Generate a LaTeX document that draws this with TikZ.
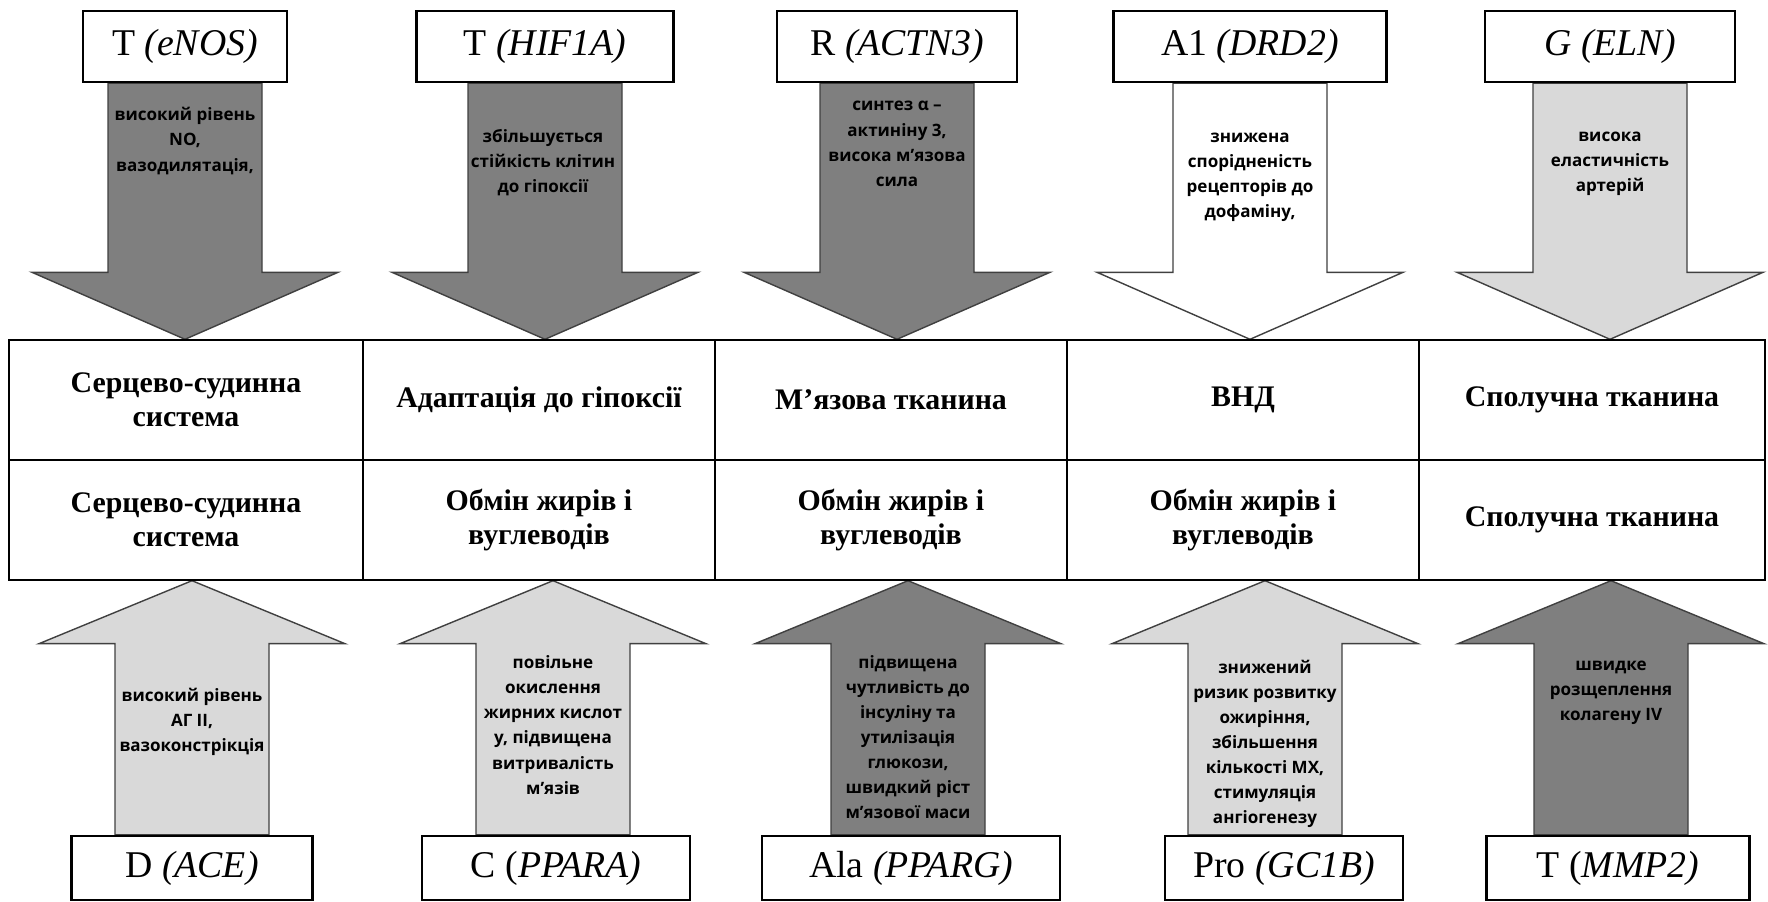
\documentclass[tikz,border=0pt]{standalone}
\usepackage{fontspec}
\setmainfont{Liberation Serif}
\newfontfamily\arrowfont{Open Sans}
\usetikzlibrary{calc,backgrounds}

\definecolor{darkgr}{RGB}{127,127,127}
\definecolor{lightgr}{RGB}{217,217,217}
\definecolor{rim}{RGB}{64,64,64}

\tikzset{
  allele/.style={draw, line width=1.4pt, fill=white, inner sep=0pt, minimum height=1.42cm, font=\fontsize{21.5}{24}\selectfont},
  cell/.style={draw, line width=0.8pt, inner sep=0pt, minimum height=2.4cm, align=center, font=\bfseries\fontsize{17}{19.5}\selectfont},
  effect/.style={align=center, inner sep=0pt, font=\arrowfont\bfseries\fontsize{9.7}{14.3}\selectfont},
  blockarr/.style={draw=rim, line width=0.8pt}
}

\begin{document}
\begin{tikzpicture}[x=0.02cm, y=-0.02cm]
\useasboundingbox (0,0) rectangle (1768,902);

% table of systems
\node[cell, minimum width=7.08cm] (c11) at (186,400) {Серцево-судинна\\система};
\node[cell, minimum width=7.04cm] (c12) at (539,400) {Адаптація до гіпоксії};
\node[cell, minimum width=7.04cm] (c13) at (891,400) {М’язова тканина};
\node[cell, minimum width=7.04cm] (c14) at (1243,400) {ВНД};
\node[cell, minimum width=6.92cm] (c15) at (1592,400) {Сполучна тканина};
\node[cell, minimum width=7.08cm] (c21) at (186,520) {Серцево-судинна\\система};
\node[cell, minimum width=7.04cm] (c22) at (539,520) {Обмін жирів і\\вуглеводів};
\node[cell, minimum width=7.04cm] (c23) at (891,520) {Обмін жирів і\\вуглеводів};
\node[cell, minimum width=7.04cm] (c24) at (1243,520) {Обмін жирів і\\вуглеводів};
\node[cell, minimum width=6.92cm] (c25) at (1592,520) {Сполучна тканина};

% alleles, top row
\node[allele, minimum width=4.08cm] (t1) at (185,46.5) {T \textit{(eNOS)}};
\node[allele, minimum width=5.14cm] (t2) at (545,46.5) {T \textit{(HIF1A)}};
\node[allele, minimum width=4.80cm] (t3) at (897,46.5) {R \textit{(ACTN3)}};
\node[allele, minimum width=5.46cm] (t4) at (1250,46.5) {A1 \textit{(DRD2)}};
\node[allele, minimum width=5.00cm] (t5) at (1610,46.5) {\textit{G (ELN)}};

% alleles, bottom row
\node[allele, minimum width=4.82cm, minimum height=1.28cm] (b1) at (192,868) {D \textit{(ACE)}};
\node[allele, minimum width=5.36cm, minimum height=1.28cm] (b2) at (556,868) {C (\textit{PPARA)}};
\node[allele, minimum width=5.96cm, minimum height=1.28cm] (b3) at (911,868) {Ala \textit{(PPARG)}};
\node[allele, minimum width=4.76cm, minimum height=1.28cm] (b4) at (1284,868) {Pro \textit{(GC1B)}};
\node[allele, minimum width=5.26cm, minimum height=1.28cm] (b5) at (1618,868) {T (\textit{MMP2)}};

% block arrows
\begin{pgfonlayer}{background}
\foreach \n/\c in {1/darkgr,2/darkgr,3/darkgr,4/white,5/lightgr}{
  \coordinate (dt\n) at (t\n.south |- c1\n.north);
  \draw[blockarr, fill=\c] ($(t\n.south)+(-77,0)$) -- ($(t\n.south)+(77,0)$) -- ($(dt\n)+(77,-67)$)
    -- ($(dt\n)+(153,-67)$) -- (dt\n) -- ($(dt\n)+(-153,-67)$) -- ($(dt\n)+(-77,-67)$) -- cycle;
}
\foreach \n/\s/\c in {1/0/lightgr,2/-3/lightgr,3/-3/darkgr,4/-19/lightgr,5/-7/darkgr}{
  \coordinate (ut\n) at ($(b\n.north |- c2\n.south)+(\s,0)$);
  \draw[blockarr, fill=\c] ($(b\n.north)+(\s-77,0)$) -- ($(b\n.north)+(\s+77,0)$) -- ($(ut\n)+(77,63)$)
    -- ($(ut\n)+(153,63)$) -- (ut\n) -- ($(ut\n)+(-153,63)$) -- ($(ut\n)+(-77,63)$) -- cycle;
}
\end{pgfonlayer}

% effects
\node[effect] (e1) at (185,141) {високий рівень\\NO,\\вазодилятація,};
\node[effect] (e2) at (543,163) {збільшується\\стійкість клітин\\до гіпоксії};
\node[effect] (e3) at (897,144) {синтез α –\\актиніну 3,\\висока м’язова\\сила};
\node[effect] (e4) at (1250,177) {знижена\\спорідненість\\рецепторів до\\дофаміну,};
\node[effect] (e5) at (1610,164) {висока\\еластичність\\артерій};
\node[effect] (f1) at (192,722) {високий рівень\\АГ ІІ,\\вазоконстрікція};
\node[effect] (f2) at (553,725) {повільне\\окислення\\жирних кислот\\у, підвищена\\витривалість\\м’язів};
\node[effect] (f3) at (908,737) {підвищена\\чутливість до\\інсуліну та\\утилізація\\глюкози,\\швидкий ріст\\м’язової маси};
\node[effect] (f4) at (1265,744) {знижений\\ризик розвитку\\ожиріння,\\збільшення\\кількості МХ,\\стимуляція\\ангіогенезу};
\node[effect] (f5) at (1611,693) {швидке\\розщеплення\\колагену IV};
\end{tikzpicture}
\end{document}
